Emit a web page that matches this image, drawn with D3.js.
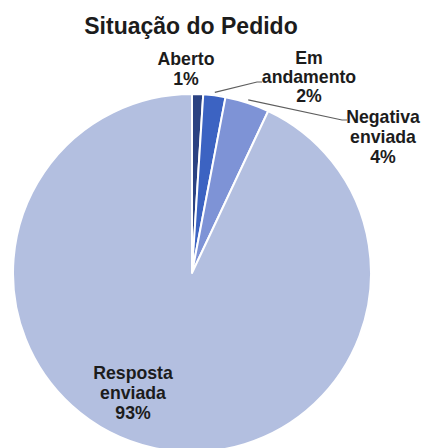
<!DOCTYPE html>
<html>
<head>
<meta charset="utf-8">
<script src="https://cdn.jsdelivr.net/npm/d3@7"></script>
<style>
  html, body { margin: 0; padding: 0; background: #ffffff; }
  svg { display: block; }
  text { font-family: "Liberation Sans", Arial, sans-serif; font-weight: bold; fill: #1c1c1c; }
</style>
</head>
<body>
<svg id="chart" width="422" height="448"></svg>
<script>
// Status breakdown of requests (percent)
const categories = ["Aberto", "Em andamento", "Negativa enviada", "Resposta enviada"];
const values = [1, 2, 4, 93];
const labelLines = [["Aberto", "1%"], ["Em", "andamento", "2%"], ["Negativa", "enviada", "4%"], ["Resposta", "enviada", "93%"]];
const colors = ["#2b4282", "#3c63c2", "#7e93d6", "#b3bfe0"];
const title = "Situação do Pedido";

// layout
const W = 422, H = 448;
const cx = 192, cy = 273, R = 179;
const lineGap = 20;
// label centres (first line) and optional leader elbow
const labelLayout = [
  { x: 186, y: 59, leader: null },
  { x: 309, y: 58, gap: 19, leader: [[257, 82], [262, 82]] },
  { x: 383, y: 117, leader: [[342, 120], [347, 120]] },
  { x: 133, y: 373, leader: null }
];

const svg = d3.select("#chart");

svg.append("text")
  .attr("x", 191).attr("y", 34)
  .attr("text-anchor", "middle")
  .style("font-size", "23px")
  .text(title);

const data = categories.map((c, i) => ({ name: c, value: values[i], i }));

const pie = d3.pie().sort(null).value(d => d.value);
const arcs = pie(data);
const arc = d3.arc().innerRadius(0).outerRadius(R);

const g = svg.append("g").attr("transform", `translate(${cx},${cy})`);

g.selectAll("path.slice")
  .data(arcs)
  .join("path")
  .attr("class", "slice")
  .attr("d", arc)
  .attr("fill", d => colors[d.data.i])
  .attr("stroke", "#ffffff")
  .attr("stroke-width", 2)
  .attr("stroke-linejoin", "round");

// leader lines from slice edge to label
const edgeArc = d3.arc().innerRadius(R + 3).outerRadius(R + 3);
arcs.forEach(a => {
  const lay = labelLayout[a.data.i];
  if (!lay.leader) return;
  const [sx, sy] = edgeArc.centroid(a);
  const pts = [[cx + sx, cy + sy], ...lay.leader];
  svg.append("path")
    .attr("d", d3.line()(pts))
    .attr("fill", "none")
    .attr("stroke", "#5e5e5e")
    .attr("stroke-width", 1.2);
});

// labels
arcs.forEach(a => {
  const lay = labelLayout[a.data.i];
  const gap = lay.gap || lineGap;
  const t = svg.append("text")
    .attr("text-anchor", "middle")
    .style("font-size", "17.7px");
  labelLines[a.data.i].forEach((ln, k) => {
    t.append("tspan")
      .attr("x", lay.x)
      .attr("y", lay.y + k * gap)
      .attr("dominant-baseline", "central")
      .text(ln);
  });
});
</script>
</body>
</html>
